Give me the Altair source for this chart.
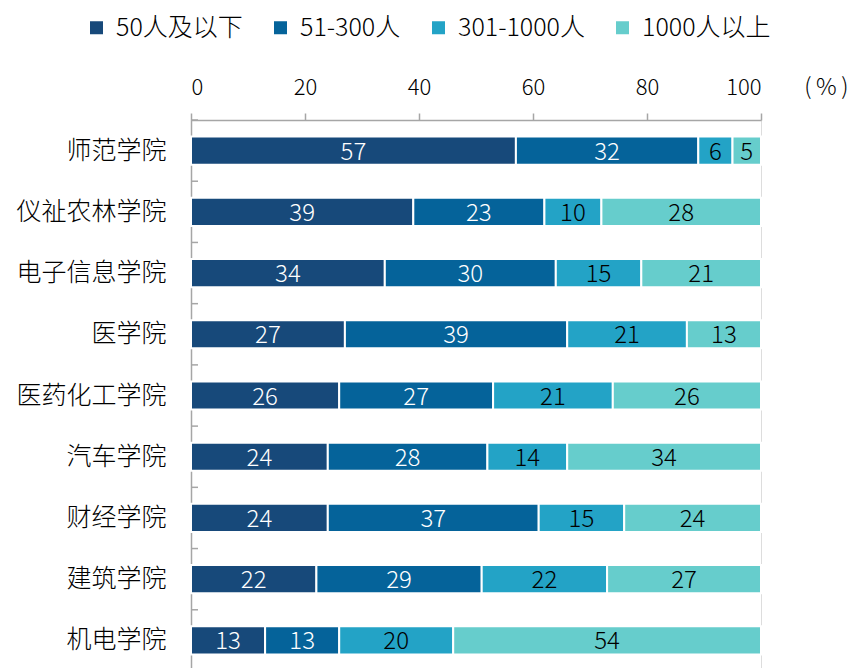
import altair as alt
import pandas as pd

colleges = ["师范学院", "仪祉农林学院", "电子信息学院", "医学院", "医药化工学院",
            "汽车学院", "财经学院", "建筑学院", "机电学院"]
series = ["50人及以下", "51-300人", "301-1000人", "1000人以上"]
v_50 = [57, 39, 34, 27, 26, 24, 24, 22, 13]
v_300 = [32, 23, 30, 39, 27, 28, 37, 29, 13]
v_1000 = [6, 10, 15, 21, 21, 14, 15, 22, 20]
v_more = [5, 28, 21, 13, 26, 34, 24, 27, 54]
colors = ["#17497a", "#05639a", "#23a3c6", "#66cdcc"]
x_ticks = [0, 20, 40, 60, 80, 100]

rows = []
for i, c in enumerate(colleges):
    start = 0
    for j, (s, vals) in enumerate(zip(series, [v_50, v_300, v_1000, v_more])):
        v = vals[i]
        rows.append(dict(college=c, series=s, order=j, value=v,
                         start=start, end=start + v, mid=start + v / 2))
        start += v
df = pd.DataFrame(rows)
cats = pd.DataFrame({"college": colleges})

FONT = "Noto Sans CJK SC"
FW = 300
GREY = "#a6a6a6"
PI, PO = 0.54, 0.27
W, H = 570, 551
STEP = H / (len(colleges) - PI + 2 * PO)

xscale = alt.Scale(domain=[0, 100], nice=False)
yscale = alt.Scale(domain=colleges, paddingInner=PI, paddingOuter=PO)

bars = alt.Chart(df).mark_bar(stroke="white", strokeWidth=2).encode(
    x=alt.X("start:Q", scale=xscale,
            axis=alt.Axis(orient="top", values=x_ticks, grid=False,
                          labelFontSize=22, labelColor="black", labelFont=FONT,
                          labelFontWeight=FW,
                          labelPadding=14, tickSize=7, tickColor=GREY, tickWidth=1.5,
                          domainColor=GREY, domainWidth=1.5,
                          title="(\u2009%\u2009)", titleFont=FONT, titleFontSize=23,
                          titleFontWeight=FW, titleColor="black",
                          titleX=657, titleY=-33, titleAlign="right",
                          titleBaseline="middle", titleAngle=0)),
    x2="end:Q",
    y=alt.Y("college:N", sort=colleges, scale=yscale,
            axis=alt.Axis(title=None, ticks=False, labelFontSize=25,
                          labelColor="black", labelFont=FONT, labelFontWeight=FW,
                          labelPadding=25, domainColor=GREY, domainWidth=1.5)),
    color=alt.Color("series:N", scale=alt.Scale(domain=series, range=colors),
                    legend=alt.Legend(title=None, orient="none", direction="horizontal",
                                      legendX=-107, legendY=-105,
                                      symbolType="square", symbolSize=169,
                                      symbolStrokeWidth=0, labelFontSize=25,
                                      labelFont=FONT, labelFontWeight=FW,
                                      labelColor="black", labelLimit=400,
                                      columnPadding=25, labelOffset=7)),
    order=alt.Order("order:Q"),
)

labels = alt.Chart(df).mark_text(fontSize=24, font=FONT, fontWeight=FW,
                                 baseline="middle", dy=2).encode(
    x=alt.X("mid:Q", scale=xscale),
    y=alt.Y("college:N", sort=colleges, scale=yscale),
    text=alt.Text("value:Q"),
    color=alt.condition("datum.order < 2", alt.value("white"), alt.value("black")),
)

yticks = alt.Chart(cats).mark_rule(color=GREY, strokeWidth=1.5,
                                   yOffset=-PO * STEP).encode(
    y=alt.Y("college:N", sort=colleges, scale=yscale, bandPosition=0),
    x=alt.value(0),
    x2=alt.value(7),
)

chart = alt.layer(bars, labels, yticks).properties(
    width=W, height=H,
    autosize=alt.AutoSizeParams(type="none"),
    padding={"left": 183, "top": 112, "right": 88, "bottom": 0},
).configure_view(stroke=None).configure(font=FONT)

chart.save("out.html", embed_options={"renderer": "svg", "actions": False})
